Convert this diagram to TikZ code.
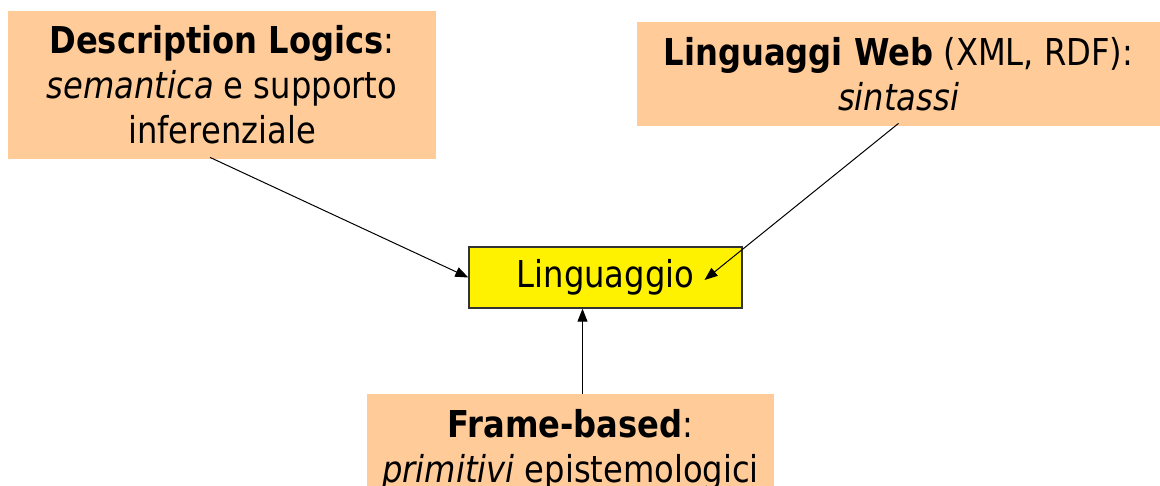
\documentclass[tikz,border=0pt]{standalone}
\usepackage{fontspec}
\setmainfont[FakeStretch=0.87]{DejaVu Sans}
\usetikzlibrary{arrows.meta}
\definecolor{peach}{HTML}{FFCC99}
\definecolor{boxborder}{HTML}{333333}
\begin{document}
\begin{tikzpicture}[x=0.5pt,y=-0.5pt,
  every node/.style={font=\fontsize{18.5pt}{22.5pt}\selectfont, align=center, inner sep=0pt},
  peachbox/.style={fill=peach, draw=none},
  langbox/.style={fill=yellow, draw=boxborder, line width=0.7pt},
  conn/.style={draw=black, line width=0.5pt, -{Triangle[length=6.5pt,width=5pt]}}]
\useasboundingbox (0,0) rectangle (1160,486);
\node[peachbox, minimum width=214pt, minimum height=74pt] (dl) at (222,85)
  {\textbf{Description Logics}:\\ \textit{semantica} e supporto\\ inferenziale};
\node[peachbox, minimum width=261.5pt, minimum height=52pt] (lw) at (898.5,74)
  {\textbf{Linguaggi Web} (XML, RDF):\\ \textit{sintassi}};
\node[langbox, minimum width=136.5pt, minimum height=30.5pt] (lang) at (605.5,277.5)
  {Linguaggio};
\node[peachbox, minimum width=203.5pt, minimum height=55.5pt] (fb) at (570.5,449.5)
  {\textbf{Frame-based}:\\ \textit{primitivi} epistemologici};
\draw[conn] ([xshift=-6pt,yshift=1pt]dl.south) -- (lang.west);
\draw[conn] ([yshift=1.5pt]lw.south) -- ([xshift=49.5pt,yshift=-1.25pt]lang.center);
\draw[conn] ([xshift=6pt]fb.north) -- ([xshift=6pt]fb.north |- lang.south);
\end{tikzpicture}
\end{document}
